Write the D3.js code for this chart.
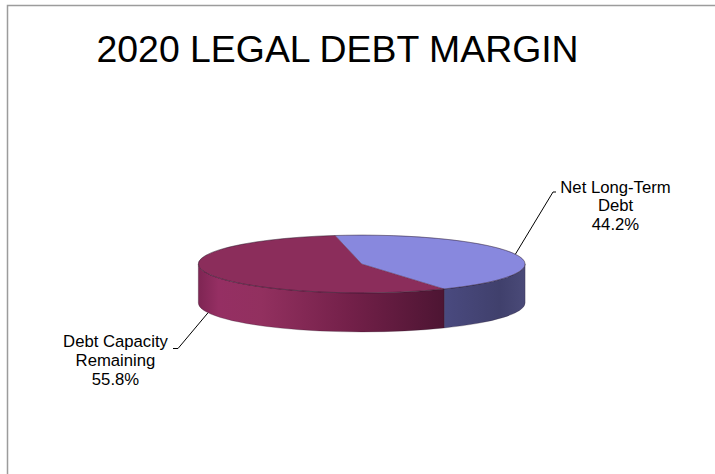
<!DOCTYPE html>
<html>
<head>
<meta charset="utf-8">
<script src="https://cdn.jsdelivr.net/npm/d3@7"></script>
<style>
  html, body { margin: 0; padding: 0; background: #fff; }
  svg { display: block; }
  text { font-family: "Liberation Sans", Arial, sans-serif; fill: #000; }
</style>
</head>
<body>
<svg id="chart" width="715" height="474"></svg>
<script>
// Slice data
const categories = ["Net Long-Term Debt", "Debt Capacity Remaining"];
const values = [44.2, 55.8];
const labelLines = [["Net Long-Term", "Debt"], ["Debt Capacity", "Remaining"]];
const titleText = "2020 LEGAL DEBT MARGIN";

const W = 715, H = 474;
const svg = d3.select("#chart");

// Frame around the chart area (right and bottom edges run past the page)
svg.append("rect")
  .attr("x", 7.5).attr("y", 5.5)
  .attr("width", W + 10).attr("height", H + 10)
  .attr("fill", "none").attr("stroke", "#9c9c9c").attr("stroke-width", 1.5);

svg.append("text")
  .attr("x", 96.5).attr("y", 62)
  .attr("font-size", 37.4)
  .text(titleText);

// 3D pie geometry
const cx = 361.7, cy = 264, rx = 163.4, ry = 28.9, depth = 39;
const pie = d3.pie().sort(null)
  .startAngle(-9.4 * Math.PI / 180)
  .endAngle((360 - 9.4) * Math.PI / 180);
const arcs = pie(values);

// d3 pie angle (0 at 12 o'clock, clockwise) -> ellipse parameter
const toT = a => a - Math.PI / 2;
const pt = (t, dy = 0) => [cx + rx * Math.cos(t), cy + ry * Math.sin(t) + dy];

const topColors = ["#8888de", "#8b2d5b"];

const defs = svg.append("defs");
const gRed = defs.append("linearGradient").attr("id", "wallRed")
  .attr("gradientUnits", "userSpaceOnUse")
  .attr("x1", cx - rx).attr("x2", cx + 90).attr("y1", 0).attr("y2", 0);
[[0, "#7e2553"], [0.08, "#952f63"], [0.25, "#92305f"], [0.6, "#732049"], [1, "#4a1431"]]
  .forEach(([o, c]) => gRed.append("stop").attr("offset", o).attr("stop-color", c));
const gBlue = defs.append("linearGradient").attr("id", "wallBlue")
  .attr("gradientUnits", "userSpaceOnUse")
  .attr("x1", cx + 80).attr("x2", cx + rx).attr("y1", 0).attr("y2", 0);
[[0, "#4a4a80"], [0.7, "#40406c"], [1, "#4a4a78"]]
  .forEach(([o, c]) => gBlue.append("stop").attr("offset", o).attr("stop-color", c));
const wallFill = ["url(#wallBlue)", "url(#wallRed)"];

const g = svg.append("g");

// Outer walls: only the front half (t in [0, PI]) is visible
function wallPath(t0, t1) {
  const p0 = pt(t0), p1 = pt(t1), q1 = pt(t1, depth), q0 = pt(t0, depth);
  const large = (t1 - t0) > Math.PI ? 1 : 0;
  return `M${p0}A${rx},${ry} 0 ${large} 1 ${p1}L${q1}A${rx},${ry} 0 ${large} 0 ${q0}Z`;
}
arcs.forEach((d, i) => {
  let t0 = toT(d.startAngle), t1 = toT(d.endAngle);
  // intersect [t0,t1] with front intervals [0,PI] and [2PI,3PI]
  [[0, Math.PI], [2 * Math.PI, 3 * Math.PI], [-2 * Math.PI, -Math.PI]].forEach(([a, b]) => {
    const s = Math.max(t0, a), e = Math.min(t1, b);
    if (e > s) {
      g.append("path")
        .attr("d", wallPath(s, e))
        .attr("fill", wallFill[i])
        .attr("stroke", "#2a1a2a").attr("stroke-opacity", 0.45).attr("stroke-width", 0.6);
    }
  });
});

// Top faces
arcs.forEach((d, i) => {
  const t0 = toT(d.startAngle), t1 = toT(d.endAngle);
  const large = (t1 - t0) > Math.PI ? 1 : 0;
  g.append("path")
    .attr("d", `M${cx},${cy}L${pt(t0)}A${rx},${ry} 0 ${large} 1 ${pt(t1)}Z`)
    .attr("fill", topColors[i])
    .attr("stroke", "#2a1a2a").attr("stroke-opacity", 0.35).attr("stroke-width", 0.6);
});
// Rim outline
g.append("ellipse")
  .attr("cx", cx).attr("cy", cy).attr("rx", rx).attr("ry", ry)
  .attr("fill", "none").attr("stroke", "#2a1a2a").attr("stroke-opacity", 0.5).attr("stroke-width", 0.7);

// Data labels with leader lines
const fmt = d3.format(".1f");
const labelLayout = [
  { x: 615.5, y: 192.5, elbow: [553, 192], side: 1, onBottom: false },
  { x: 115.5, y: 347, elbow: [178, 348.5], side: -1, onBottom: true }
];
arcs.forEach((d, i) => {
  const L = labelLayout[i];
  const tm = toT((d.startAngle + d.endAngle) / 2);
  const anchor = pt(tm, L.onBottom ? depth : 0);
  const tail = [L.elbow[0] + (L.side > 0 ? 3 : -5), L.elbow[1]];
  svg.append("path")
    .attr("d", d3.line()([anchor, L.elbow, tail]))
    .attr("fill", "none").attr("stroke", "#000").attr("stroke-width", 1);
  const lines = labelLines[i].concat([fmt(d.data) + "%"]);
  const t = svg.append("text")
    .attr("font-size", 16.7).attr("text-anchor", "middle");
  lines.forEach((s, k) => {
    t.append("tspan").attr("x", L.x).attr("y", L.y + k * 18.8).text(s);
  });
});
</script>
</body>
</html>
